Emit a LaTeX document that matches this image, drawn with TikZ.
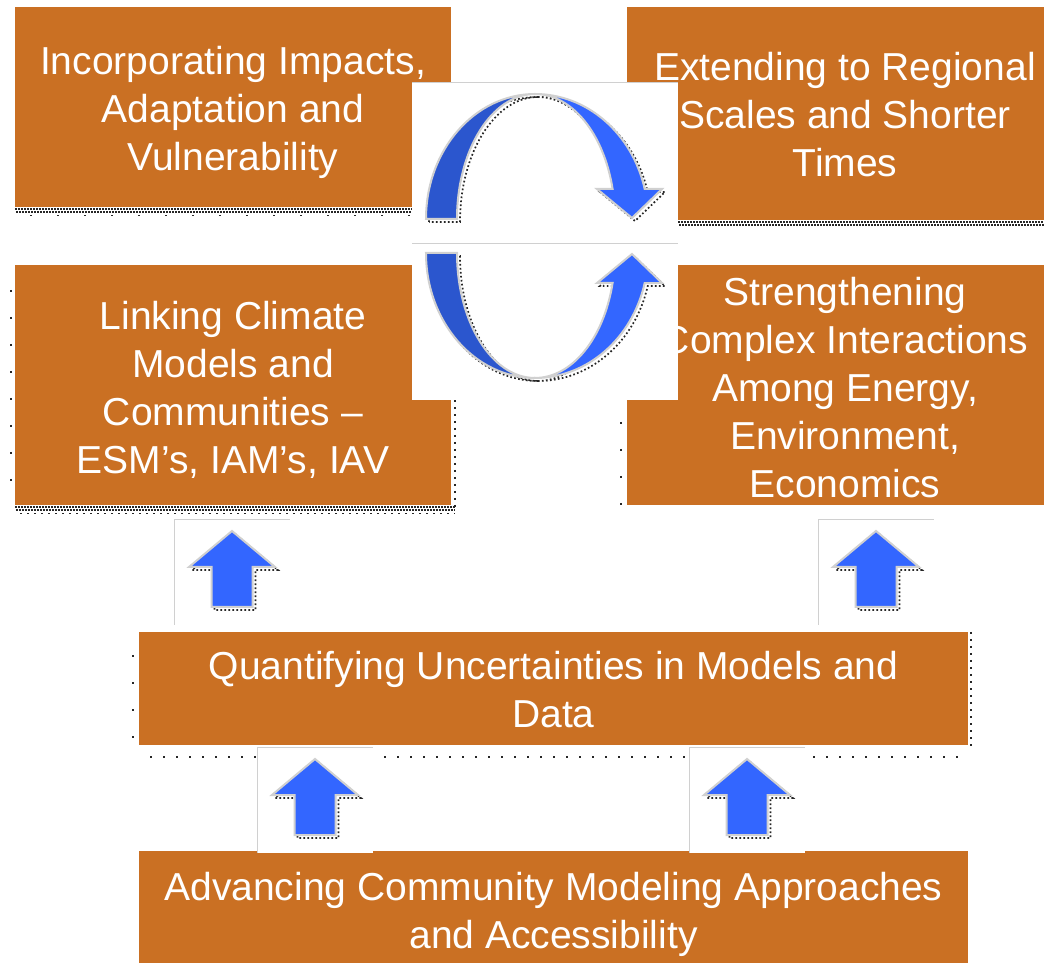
\documentclass[tikz,border=0pt]{standalone}
\usepackage{fontspec}
\setmainfont{Liberation Sans}
\definecolor{boxorange}{RGB}{202,112,35}
\definecolor{arrowblue}{RGB}{51,102,255}
\definecolor{darkblue}{RGB}{43,86,206}
\definecolor{rimgray}{RGB}{208,208,208}

\begin{document}
\begin{tikzpicture}[x=1pt,y=1pt,
    topic/.style={text=white, align=center, inner sep=0pt,
      font=\fontsize{39}{48}\selectfont},
    speckle/.style={draw=black!85, line width=1.7pt, dash pattern=on 1.7pt off 2.3pt},
    blockarrow/.style={fill=arrowblue, draw=rimgray, line width=2pt}]
    \useasboundingbox (0,0) rectangle (1044,962);

    % dotted shadows under the boxes
    \draw[speckle, dash pattern=on 1.7pt off 1.3pt] (15,753) -- (412,753);
    \draw[speckle, dash pattern=on 1.7pt off 1.3pt] (16,750) -- (412,750);
    \draw[speckle, dash pattern=on 1.7pt off 25.3pt] (30,746.5) -- (412,746.5);
    \draw[speckle, dash pattern=on 1.7pt off 1.3pt] (678,740) -- (1044,740);
    \draw[speckle, dash pattern=on 1.7pt off 1.3pt] (679,737) -- (1044,737);
    \draw[speckle, dash pattern=on 1.7pt off 25.3pt] (11,672) -- (11,457);
    \draw[speckle, dash pattern=on 1.7pt off 1.3pt] (15,455) -- (455,455);
    \draw[speckle, dash pattern=on 1.7pt off 1.3pt] (16,452) -- (455,452);
    \draw[speckle, dash pattern=on 1.7pt off 5.3pt] (20,448.5) -- (455,448.5);
    \draw[speckle, dash pattern=on 1.7pt off 5.3pt] (455,562) -- (455,455);
    \draw[speckle, dash pattern=on 1.7pt off 25.3pt] (621,540) -- (621,457);
    \draw[speckle, dash pattern=on 1.7pt off 25.3pt] (133,307) -- (133,217);
    \draw[speckle, dash pattern=on 1.7pt off 11.3pt] (150,205) -- (968,205);
    \draw[speckle, dash pattern=on 1.7pt off 5.3pt] (971,330) -- (971,212);

    % orange boxes
    \fill[boxorange] (15,755) rectangle (451,955);
    \fill[boxorange] (627,742) rectangle (1063,955);
    \fill[boxorange] (15,457) rectangle (451,697);
    \fill[boxorange] (627,457) rectangle (1063,697);
    \fill[boxorange] (139,217) rectangle (968,330);
    \fill[boxorange] (139,-8) rectangle (968,111);

    \node[topic] (incorp) at (233,849.5)
      {Incorporating Impacts,\\Adaptation and\\Vulnerability};
    \node[topic] (extend) at (845,847.5)
      {Extending to Regional\\Scales and Shorter\\Times};
    \node[topic] (linking) at (233,572.5)
      {Linking Climate\\Models and\\Communities –\\ESM’s, IAM’s, IAV};
    \node[topic] (strength) at (845,574)
      {Strengthening\\Complex Interactions\\Among Energy,\\Environment,\\Economics};
    \node[topic] (quant) at (553.5,272.5)
      {Quantifying Uncertainties in Models and\\Data};
    \node[topic] (advance) at (553.5,48)
      {Advancing Community Modeling Approaches\\and Accessibility};

    % up arrows between the rows
    \foreach \tx/\ty in {232/431, 876/431, 315/203, 747/203} {
        \fill[white] (\tx-58,\ty-94) rectangle (\tx+58,\ty+12);
        \draw[rimgray] (\tx-58,\ty-94) -- (\tx-58,\ty+12) -- (\tx+58,\ty+12);
        \draw[speckle, shift={(3,-3)}] (\tx,\ty) -- ++(43,-36) -- ++(-22.5,0) -- ++(0,-40)
            -- ++(-41,0) -- ++(0,40) -- ++(-22.5,0) -- cycle;
        \draw[blockarrow] (\tx,\ty) -- ++(43,-36) -- ++(-22.5,0) -- ++(0,-40)
            -- ++(-41,0) -- ++(0,40) -- ++(-22.5,0) -- cycle;
    }

    % cycle in the middle
    \fill[white] (412,562) rectangle (678,880);
    \draw[rimgray] (412,880) -- (678,880);
    \draw[rimgray] (412,719) -- (678,719);

    \begin{scope}[shift={(3,-3)}]
        \draw[speckle] (426,743) arc[start angle=180, end angle=90, x radius=109, y radius=125]
            arc[start angle=90, end angle=180, x radius=78, y radius=125] -- cycle;
        \draw[speckle] (535,868) arc[start angle=90, end angle=13.9, x radius=113, y radius=125]
            -- (662,773) -- (632,744) -- (597,773) -- (612.6,773)
            arc[start angle=13.9, end angle=90, x radius=80, y radius=125] -- cycle;
        \draw[speckle] (426,709) arc[start angle=180, end angle=270, x radius=109, y radius=125]
            arc[start angle=270, end angle=180, x radius=78, y radius=125] -- cycle;
        \draw[speckle] (535,584) arc[start angle=270, end angle=346.1, x radius=113, y radius=125]
            -- (662,679) -- (632,708) -- (597,679) -- (612.6,679)
            arc[start angle=346.1, end angle=270, x radius=80, y radius=125] -- cycle;
    \end{scope}

    \draw[blockarrow, fill=darkblue] (426,743) arc[start angle=180, end angle=90, x radius=109, y radius=125]
        arc[start angle=90, end angle=180, x radius=78, y radius=125] -- cycle;
    \draw[blockarrow] (535,868) arc[start angle=90, end angle=13.9, x radius=113, y radius=125]
        -- (662,773) -- (632,744) -- (597,773) -- (612.6,773)
        arc[start angle=13.9, end angle=90, x radius=80, y radius=125] -- cycle;
    \draw[blockarrow, fill=darkblue] (426,709) arc[start angle=180, end angle=270, x radius=109, y radius=125]
        arc[start angle=270, end angle=180, x radius=78, y radius=125] -- cycle;
    \draw[blockarrow] (535,584) arc[start angle=270, end angle=346.1, x radius=113, y radius=125]
        -- (662,679) -- (632,708) -- (597,679) -- (612.6,679)
        arc[start angle=346.1, end angle=270, x radius=80, y radius=125] -- cycle;
\end{tikzpicture}
\end{document}
